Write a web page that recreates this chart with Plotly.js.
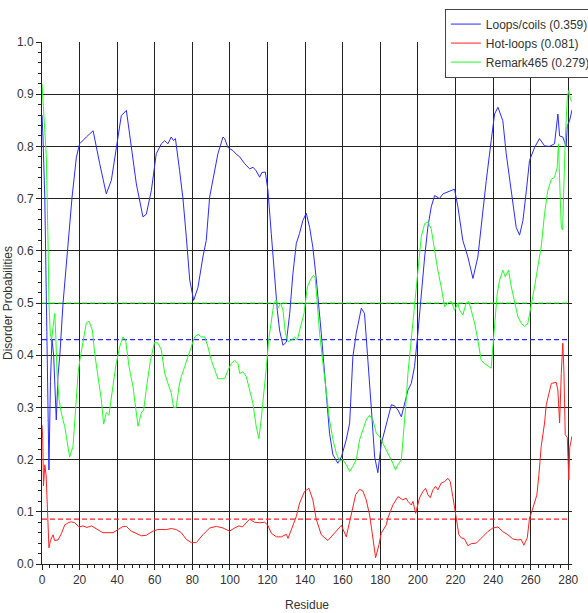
<!DOCTYPE html>
<html>
<head>
<meta charset="utf-8">
<script src="https://cdn.plot.ly/plotly-3.0.1.min.js"></script>
<style>html,body{margin:0;padding:0;background:#fff;}#chart{width:588px;height:613px;}</style>
</head>
<body>
<div id="chart"></div>
<script>
const seriesNames = ["Loops/coils (0.359)", "Hot-loops (0.081)", "Remark465 (0.279)"];
const seriesColors = ["#2a2aff", "#ff2020", "#20ff20"];
const thresholds = [0.43, 0.086, 0.5];
const thresholdEnd = [0, 280];

const loopsX = [0,0.5,1.5,2.5,3.7,4.5,5.3,6.2,7.6,8.5,9.5,11.2,13.8,16,18.3,20,23.6,25.4,27.2,30.7,34.2,36.9,39.6,42.2,44.9,46.6,50.2,53.7,55.5,58.2,60.8,63.5,65.3,67,68.8,70,71,73.2,75,76.8,78.6,80.7,83,85.6,87.4,89.2,91,93.6,96.3,97.2,98.9,101.6,103.4,105.2,107.8,110.5,112.3,114,115.8,117,118.8,120.2,122,123.8,125.2,126.4,128.2,130,131.8,133.5,135.3,137,138.8,140.6,142.4,144.1,146,148.6,151.3,153,154.8,157.4,159.3,161.9,163.7,165.4,167.2,169.9,171.6,173.4,175.2,177,178.7,180.5,183.2,185.9,187.6,189.4,191.2,192.9,194.7,196.5,198.2,200,201.8,203.6,205.3,207.1,208.9,211.5,213.3,215.1,217,219.5,221.3,223.9,226.6,229.3,231.9,233.7,236.4,239,240.8,242.6,245.2,247,249.7,252.3,254.1,255.9,257.7,259.4,262.1,264.7,267.4,270,272.7,274.5,275.4,277.1,278.9,279.5,280.7,282];
const loopsY = [0.86,0.82,0.7,0.45,0.18,0.35,0.43,0.40,0.276,0.36,0.40,0.5,0.607,0.703,0.779,0.805,0.818,0.824,0.83,0.767,0.709,0.735,0.798,0.859,0.869,0.825,0.728,0.665,0.67,0.716,0.786,0.805,0.811,0.805,0.818,0.811,0.815,0.754,0.70,0.626,0.544,0.505,0.53,0.588,0.62,0.703,0.735,0.786,0.818,0.815,0.798,0.792,0.785,0.78,0.767,0.757,0.76,0.753,0.741,0.75,0.751,0.716,0.633,0.544,0.486,0.448,0.419,0.425,0.48,0.556,0.614,0.633,0.658,0.672,0.645,0.607,0.544,0.442,0.32,0.25,0.209,0.193,0.205,0.238,0.27,0.397,0.442,0.49,0.48,0.397,0.3,0.205,0.175,0.23,0.27,0.305,0.303,0.295,0.282,0.307,0.333,0.346,0.378,0.442,0.518,0.588,0.645,0.684,0.706,0.70,0.709,0.712,0.715,0.718,0.684,0.62,0.588,0.547,0.588,0.652,0.735,0.811,0.862,0.875,0.849,0.786,0.709,0.645,0.63,0.658,0.715,0.773,0.798,0.815,0.801,0.80,0.805,0.862,0.82,0.818,0.80,0.84,0.849,0.87];

const hotX = [0,0.4,0.8,1.5,2.2,3,3.7,4.5,5.9,6.7,8.5,10.3,12.1,14,15.6,17.4,19.7,21.8,23.9,26.3,28.9,32.4,37.8,40.5,43.1,44.9,47.5,52.9,55.5,59,61.7,66.2,68.8,71.4,74.1,76.8,79.5,82.1,85.6,89.2,92.8,96.3,99.8,102.5,104.8,106.6,108.7,110.5,113.1,115.8,118.5,120.2,122,124.7,127.3,130,130.9,132.7,135.3,137.1,139.7,142,144.1,145.9,148.6,152.1,153.9,156.6,159.3,161.9,164.6,166.9,169,170.7,172.5,174.3,175.7,177.5,179.3,180.5,183.2,184,186.7,189.4,192,193.8,194.7,196.5,197.4,198.8,200.9,202.7,204.1,205.3,206.6,208,209.4,210.6,212.4,214.2,216,217.2,218.6,220,221.8,223.1,224.8,226.6,228.4,231.1,234.6,237.2,239.9,242.6,245.2,247.9,250.5,253.2,255,256.4,258.2,259.4,260.3,262.1,263.3,264.4,265.6,267.4,268.3,271,273.6,274.5,275.4,276.3,277.1,277.7,278.4,279.5,280.3,280.8,282];
const hotY = [0.266,0.24,0.15,0.19,0.17,0.09,0.031,0.045,0.056,0.045,0.046,0.058,0.075,0.079,0.081,0.079,0.071,0.073,0.07,0.073,0.067,0.06,0.06,0.067,0.072,0.072,0.063,0.054,0.055,0.063,0.066,0.066,0.068,0.066,0.06,0.047,0.041,0.041,0.056,0.069,0.072,0.069,0.063,0.069,0.073,0.071,0.078,0.086,0.08,0.079,0.08,0.074,0.059,0.052,0.052,0.057,0.049,0.067,0.091,0.117,0.139,0.145,0.123,0.086,0.056,0.045,0.052,0.063,0.074,0.052,0.097,0.133,0.143,0.14,0.123,0.094,0.059,0.012,0.037,0.059,0.075,0.088,0.113,0.129,0.123,0.126,0.12,0.113,0.12,0.097,0.127,0.139,0.145,0.133,0.127,0.142,0.149,0.142,0.155,0.158,0.164,0.158,0.129,0.097,0.056,0.05,0.048,0.035,0.039,0.04,0.053,0.062,0.069,0.071,0.062,0.056,0.048,0.046,0.047,0.036,0.05,0.088,0.097,0.116,0.132,0.171,0.225,0.27,0.305,0.346,0.348,0.333,0.27,0.365,0.423,0.37,0.248,0.242,0.161,0.223,0.245];

const remarkX = [0,0.8,1.5,2.3,3.2,3.7,4.4,5.1,5.9,6.8,7.3,8,9.1,10.3,12.1,13.8,14.7,16.5,17.9,19.2,20.1,21.8,23.6,25,26.8,28,29.8,31.6,32.8,34.2,35.6,37.4,39.2,41.3,43.1,44.5,46.3,48.4,50.2,51.1,52.9,54.1,55.9,57.7,59.9,61.7,63.5,65.3,67,68.8,70,71.4,72.9,74.1,75.9,77.7,79.5,81.2,83,84.8,86.6,88.3,90.1,91.9,93.6,95.4,97.2,98.9,100.7,102.5,104.3,105.2,106.9,108.7,110.5,112.2,114,115.4,116.6,118.1,119.4,120.6,122,123.4,124.6,125.5,127,128.2,129.5,130.9,132.7,134.4,135.8,137.6,139.4,141.2,142.9,144.5,145.3,146.3,147.7,149.5,151.3,153,154.8,156.6,158.4,160.1,161.9,163.7,165.4,167.2,169,170.7,172.5,174.3,176.1,177.9,179.6,181.4,183.2,184.9,186.7,188.1,189.4,191.2,192.1,193.5,194.7,196.5,198.2,200,201.8,203.6,205.3,207.1,208.9,210.6,212.4,214.2,216,217.8,219.5,221.3,222.2,223.9,225.7,227,228.4,230.2,231.9,233.7,235.5,237.3,239,239.9,240.8,242.2,243.5,245.2,246.5,248.2,249.7,251.4,253.2,255,256.8,258.5,260.3,262.1,263.8,265.6,267.4,269.1,271,272.7,274.1,274.8,275.5,276.3,277,277.6,278.4,279.5,280.3,281.2,282];
const remarkY = [0.92,0.869,0.82,0.78,0.62,0.5,0.442,0.429,0.455,0.48,0.44,0.365,0.314,0.289,0.263,0.225,0.205,0.225,0.30,0.365,0.39,0.429,0.462,0.465,0.448,0.404,0.359,0.314,0.268,0.29,0.285,0.333,0.378,0.416,0.435,0.429,0.378,0.34,0.295,0.264,0.29,0.295,0.346,0.39,0.425,0.423,0.41,0.365,0.346,0.327,0.30,0.30,0.34,0.359,0.378,0.397,0.416,0.435,0.44,0.435,0.435,0.416,0.39,0.371,0.355,0.355,0.355,0.371,0.384,0.39,0.384,0.365,0.368,0.359,0.333,0.308,0.263,0.24,0.276,0.327,0.378,0.429,0.467,0.50,0.506,0.49,0.5,0.486,0.442,0.426,0.429,0.435,0.429,0.455,0.48,0.531,0.545,0.553,0.55,0.506,0.442,0.384,0.333,0.276,0.238,0.212,0.197,0.2,0.19,0.177,0.187,0.2,0.238,0.257,0.276,0.285,0.276,0.25,0.244,0.231,0.219,0.206,0.193,0.18,0.19,0.2,0.238,0.301,0.365,0.429,0.493,0.556,0.627,0.652,0.655,0.642,0.601,0.563,0.531,0.493,0.5,0.503,0.486,0.5,0.486,0.477,0.5,0.503,0.486,0.461,0.429,0.39,0.384,0.38,0.375,0.416,0.461,0.518,0.544,0.563,0.55,0.563,0.531,0.5,0.474,0.461,0.455,0.461,0.493,0.531,0.569,0.607,0.671,0.715,0.737,0.741,0.759,0.805,0.728,0.645,0.64,0.735,0.811,0.894,0.907,0.89,0.885];

const xTicks = [0,20,40,60,80,100,120,140,160,180,200,220,240,260,280];
const yTicks = [0,0.1,0.2,0.3,0.4,0.5,0.6,0.7,0.8,0.9,1.0];

const xs = [loopsX, hotX, remarkX];
const ys = [loopsY, hotY, remarkY];

const traces = [];
for (let i = 0; i < 3; i++) {
  traces.push({
    x: thresholdEnd, y: [thresholds[i], thresholds[i]],
    mode: 'lines', showlegend: false, hoverinfo: 'skip',
    line: {color: seriesColors[i], width: 1.2, dash: '5px,3px'}
  });
}
for (let i = 0; i < 3; i++) {
  traces.push({
    x: xs[i], y: ys[i], name: seriesNames[i],
    mode: 'lines', line: {color: seriesColors[i], width: 1}
  });
}

const baseFont = '"Liberation Sans", Arial, sans-serif';
const tickFont = {family: baseFont, size: 12, color: '#333'};
const layout = {
  width: 588, height: 613,
  margin: {l: 42, r: 16, t: 42, b: 49, autoexpand: false},
  paper_bgcolor: '#fff', plot_bgcolor: '#fff',
  showlegend: true,
  legend: {
    x: 1.045, xanchor: 'right', y: 1.064, yanchor: 'top',
    bgcolor: '#fff', bordercolor: '#444', borderwidth: 1,
    font: {family: baseFont, size: 12, color: '#333'},
    itemwidth: 30, tracegroupgap: 0
  },
  xaxis: {
    range: [0, 282], tickvals: xTicks, ticktext: xTicks.map(String),
    showgrid: true, gridcolor: '#222', gridwidth: 1,
    showline: true, linecolor: '#222', linewidth: 1, zeroline: false,
    ticks: 'outside', ticklen: 5, tickcolor: '#222',
    minor: {dtick: 4, ticks: 'outside', ticklen: 3, tickcolor: '#222', showgrid: false},
    tickfont: tickFont,
    title: {text: 'Residue', font: {family: baseFont, size: 12, color: '#333'}, standoff: 14}
  },
  yaxis: {
    range: [0, 1.0], tickvals: yTicks, ticktext: yTicks.map(v => v.toFixed(1)),
    showgrid: true, gridcolor: '#222', gridwidth: 1,
    showline: true, linecolor: '#222', linewidth: 1, zeroline: false,
    ticks: 'outside', ticklen: 5, tickcolor: '#222',
    minor: {dtick: 0.02, ticks: 'outside', ticklen: 3, tickcolor: '#222', showgrid: false},
    tickfont: tickFont,
    title: {text: 'Disorder Probabilities', font: {family: baseFont, size: 12, color: '#333'}, standoff: 1}
  }
};

Plotly.newPlot('chart', traces, layout, {displayModeBar: false, staticPlot: true});
</script>
</body>
</html>
